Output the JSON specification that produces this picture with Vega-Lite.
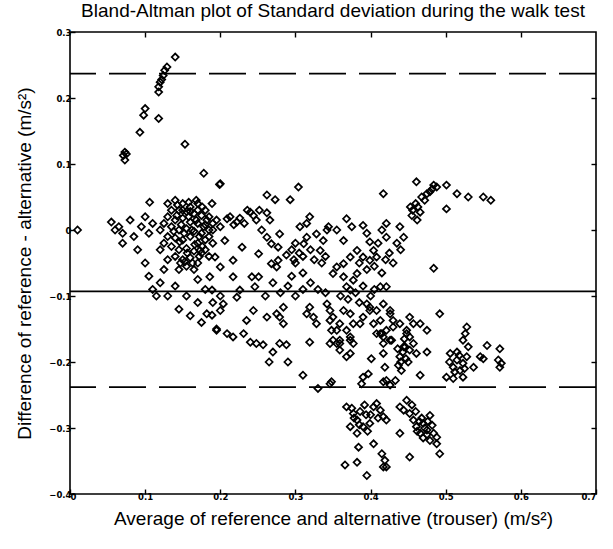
{
  "$schema": "https://vega.github.io/schema/vega-lite/v6.json",
  "width": 526,
  "height": 462,
  "autosize": {"type": "none"},
  "padding": {"left": 70, "top": 32, "right": 17, "bottom": 55},
  "background": "white",
  "title": {"text": "Bland-Altman plot of Standard deviation during the walk test", "font": "Liberation Sans", "fontSize": 19, "fontWeight": "normal", "color": "black", "offset": 7, "anchor": "middle"},
  "config": {
    "view": {"stroke": "black", "strokeWidth": 1.6},
    "axis": {"grid": false, "domain": false, "tickColor": "black", "tickSize": -5, "tickWidth": 1.4, "labelFont": "DejaVu Sans", "labelFontSize": 8.5, "labelFontWeight": "bold", "labelColor": "black", "titleFont": "Liberation Sans", "titleFontSize": 19, "titleFontWeight": "normal", "titleColor": "black"}
  },
  "datasets": {
    "pts": [
      {"a":0.140,"d":0.262},{"a":0.129,"d":0.247},{"a":0.126,"d":0.242},{"a":0.124,"d":0.234},{"a":0.120,"d":0.224},{"a":0.118,"d":0.217},{"a":0.118,"d":0.209},{"a":0.122,"d":0.228},{"a":0.100,"d":0.184},{"a":0.098,"d":0.174},{"a":0.118,"d":0.169},{"a":0.093,"d":0.148},{"a":0.073,"d":0.118},{"a":0.071,"d":0.113},{"a":0.073,"d":0.106},{"a":0.075,"d":0.115},{"a":0.153,"d":0.130},{"a":0.178,"d":0.086},{"a":0.199,"d":0.069},{"a":0.106,"d":0.042},{"a":0.189,"d":0.040},
      {"a":0.200,"d":0.070},{"a":0.262,"d":0.053},{"a":0.293,"d":0.046},{"a":0.304,"d":0.065},{"a":0.417,"d":0.055},{"a":0.461,"d":0.073},{"a":0.484,"d":0.068},{"a":0.501,"d":0.068},{"a":0.501,"d":0.032},{"a":0.479,"d":0.058},{"a":0.466,"d":0.027},{"a":0.453,"d":0.035},{"a":0.472,"d":0.045},{"a":0.460,"d":0.040},
      {"a":0.209,"d":0.017},{"a":0.222,"d":0.012},{"a":0.240,"d":0.027},{"a":0.244,"d":0.022},{"a":0.262,"d":0.026},{"a":0.266,"d":0.015},{"a":0.273,"d":0.046},
      {"a":0.255,"d":0.000},{"a":0.262,"d":-0.011},{"a":0.268,"d":-0.021},{"a":0.279,"d":-0.006},{"a":0.277,"d":-0.026},{"a":0.277,"d":-0.046},{"a":0.288,"d":-0.038},
      {"a":0.306,"d":0.005},{"a":0.315,"d":0.010},{"a":0.315,"d":-0.011},{"a":0.311,"d":-0.021},{"a":0.319,"d":0.020},
      {"a":0.328,"d":-0.006},{"a":0.337,"d":-0.016},{"a":0.333,"d":-0.031},{"a":0.342,"d":0.000},
      {"a":0.344,"d":0.005},{"a":0.355,"d":0.000},{"a":0.364,"d":-0.016},{"a":0.368,"d":0.017},{"a":0.375,"d":0.005},
      {"a":0.390,"d":0.007},{"a":0.395,"d":-0.005},{"a":0.399,"d":-0.018},{"a":0.404,"d":-0.031},{"a":0.415,"d":0.000},{"a":0.421,"d":-0.011},{"a":0.439,"d":0.005},{"a":0.444,"d":-0.011},{"a":0.421,"d":0.010},{"a":0.455,"d":0.022},{"a":0.462,"d":0.015},
      {"a":0.382,"d":-0.031},{"a":0.373,"d":-0.041},{"a":0.364,"d":-0.051},{"a":0.355,"d":-0.056},{"a":0.350,"d":-0.066},
      {"a":0.390,"d":-0.041},{"a":0.399,"d":-0.046},{"a":0.408,"d":-0.041},
      {"a":0.484,"d":-0.058},{"a":0.492,"d":-0.127},{"a":0.413,"d":-0.086},{"a":0.421,"d":-0.086},
      {"a":0.364,"d":-0.071},{"a":0.368,"d":-0.086},{"a":0.373,"d":-0.091},{"a":0.377,"d":-0.076},{"a":0.382,"d":-0.066},
      {"a":0.342,"d":-0.112},{"a":0.346,"d":-0.122},{"a":0.350,"d":-0.132},{"a":0.359,"d":-0.142},
      {"a":0.319,"d":-0.117},{"a":0.324,"d":-0.132},{"a":0.328,"d":-0.142},{"a":0.315,"d":-0.127},
      {"a":0.284,"d":-0.117},{"a":0.279,"d":-0.132},{"a":0.284,"d":-0.142},{"a":0.275,"d":-0.127},
      {"a":0.262,"d":-0.132},{"a":0.244,"d":-0.122},{"a":0.235,"d":-0.137},
      {"a":0.195,"d":-0.152},{"a":0.209,"d":-0.157},{"a":0.217,"d":-0.162},{"a":0.231,"d":-0.157},
      {"a":0.182,"d":-0.127},{"a":0.189,"d":-0.129},
      {"a":0.217,"d":-0.071},{"a":0.226,"d":-0.091},{"a":0.222,"d":-0.102},{"a":0.204,"d":-0.112},{"a":0.200,"d":-0.122},
      {"a":0.186,"d":-0.071},{"a":0.189,"d":-0.091},
      {"a":0.200,"d":-0.056},{"a":0.217,"d":-0.046},{"a":0.193,"d":-0.041},{"a":0.251,"d":-0.036},{"a":0.268,"d":-0.051},{"a":0.275,"d":-0.056},
      {"a":0.206,"d":-0.016},{"a":0.229,"d":-0.026},{"a":0.173,"d":-0.031},
      {"a":0.242,"d":-0.071},{"a":0.251,"d":-0.071},{"a":0.246,"d":-0.086},
      {"a":0.439,"d":-0.142},{"a":0.448,"d":-0.152},{"a":0.452,"d":-0.162},{"a":0.457,"d":-0.172},{"a":0.444,"d":-0.177},
      {"a":0.417,"d":-0.112},{"a":0.426,"d":-0.127},{"a":0.430,"d":-0.137},{"a":0.421,"d":-0.152},{"a":0.413,"d":-0.157},
      {"a":0.395,"d":-0.112},{"a":0.399,"d":-0.122},{"a":0.390,"d":-0.132},{"a":0.386,"d":-0.142},
      {"a":0.377,"d":-0.142},{"a":0.368,"d":-0.152},{"a":0.373,"d":-0.167},{"a":0.377,"d":-0.172},
      {"a":0.346,"d":-0.172},{"a":0.350,"d":-0.167},{"a":0.359,"d":-0.172},{"a":0.319,"d":-0.170},{"a":0.279,"d":-0.172},{"a":0.288,"d":-0.174},{"a":0.240,"d":-0.170},{"a":0.248,"d":-0.172},{"a":0.257,"d":-0.174},
      {"a":0.348,"d":-0.152},{"a":0.417,"d":-0.172},{"a":0.426,"d":-0.167},{"a":0.466,"d":-0.142},{"a":0.475,"d":-0.152},
      {"a":0.452,"d":-0.132},{"a":0.457,"d":-0.142},
      {"a":0.448,"d":-0.157},{"a":0.446,"d":-0.177},{"a":0.439,"d":-0.192},{"a":0.437,"d":-0.205},{"a":0.441,"d":-0.213},{"a":0.452,"d":-0.182},{"a":0.461,"d":-0.187},{"a":0.475,"d":-0.185},{"a":0.433,"d":-0.228},{"a":0.426,"d":-0.235},{"a":0.417,"d":-0.230},{"a":0.419,"d":-0.208},{"a":0.417,"d":-0.187},{"a":0.428,"d":-0.167},{"a":0.415,"d":-0.157},{"a":0.430,"d":-0.147},{"a":0.401,"d":-0.195},{"a":0.397,"d":-0.218},{"a":0.388,"d":-0.233},{"a":0.466,"d":-0.220},
      {"a":0.443,"d":-0.185},{"a":0.447,"d":-0.195},{"a":0.436,"d":-0.180},{"a":0.450,"d":-0.200},{"a":0.440,"d":-0.200},{"a":0.445,"d":-0.165},
      {"a":0.355,"d":-0.172},{"a":0.359,"d":-0.182},{"a":0.373,"d":-0.187},{"a":0.368,"d":-0.192},{"a":0.348,"d":-0.230},
      {"a":0.506,"d":-0.187},{"a":0.515,"d":-0.197},{"a":0.510,"d":-0.208},{"a":0.519,"d":-0.213},{"a":0.523,"d":-0.202},{"a":0.528,"d":-0.192},{"a":0.501,"d":-0.223},{"a":0.510,"d":-0.225},{"a":0.523,"d":-0.223},{"a":0.528,"d":-0.147},{"a":0.526,"d":-0.157},{"a":0.523,"d":-0.167},{"a":0.530,"d":-0.177},{"a":0.537,"d":-0.208},{"a":0.555,"d":-0.175},{"a":0.546,"d":-0.192},{"a":0.550,"d":-0.195},{"a":0.572,"d":-0.180},{"a":0.570,"d":-0.197},{"a":0.572,"d":-0.208},{"a":0.574,"d":-0.202},
      {"a":0.505,"d":-0.200},{"a":0.512,"d":-0.215},{"a":0.518,"d":-0.190},{"a":0.525,"d":-0.210},{"a":0.515,"d":-0.185},
      {"a":0.368,"d":-0.268},{"a":0.377,"d":-0.278},{"a":0.382,"d":-0.288},{"a":0.390,"d":-0.298},{"a":0.399,"d":-0.293},{"a":0.404,"d":-0.268},{"a":0.408,"d":-0.263},{"a":0.413,"d":-0.273},{"a":0.417,"d":-0.283},{"a":0.421,"d":-0.288},{"a":0.373,"d":-0.298},{"a":0.382,"d":-0.308},{"a":0.386,"d":-0.275},{"a":0.394,"d":-0.280},{"a":0.378,"d":-0.285},
      {"a":0.392,"d":-0.265},{"a":0.400,"d":-0.280},{"a":0.410,"d":-0.285},{"a":0.385,"d":-0.295},{"a":0.396,"d":-0.305},{"a":0.375,"d":-0.270},
      {"a":0.448,"d":-0.258},{"a":0.439,"d":-0.268},{"a":0.444,"d":-0.273},{"a":0.452,"d":-0.278},{"a":0.457,"d":-0.288},{"a":0.461,"d":-0.298},{"a":0.470,"d":-0.293},{"a":0.466,"d":-0.308},{"a":0.475,"d":-0.303},{"a":0.479,"d":-0.281},{"a":0.484,"d":-0.308},{"a":0.488,"d":-0.314},{"a":0.479,"d":-0.319},{"a":0.492,"d":-0.339},{"a":0.439,"d":-0.308},{"a":0.452,"d":-0.344},{"a":0.488,"d":-0.324},{"a":0.468,"d":-0.285},{"a":0.472,"d":-0.300},{"a":0.462,"d":-0.305},{"a":0.476,"d":-0.290},
      {"a":0.455,"d":-0.265},{"a":0.460,"d":-0.275},{"a":0.465,"d":-0.290},{"a":0.475,"d":-0.310},{"a":0.482,"d":-0.296},{"a":0.470,"d":-0.315},
      {"a":0.384,"d":-0.329},{"a":0.382,"d":-0.352},{"a":0.366,"d":-0.356},{"a":0.395,"d":-0.372},{"a":0.404,"d":-0.324},{"a":0.415,"d":-0.339},{"a":0.419,"d":-0.349},{"a":0.421,"d":-0.359},{"a":0.417,"d":-0.359},
      {"a":0.364,"d":-0.122},{"a":0.373,"d":-0.127},{"a":0.355,"d":-0.152},{"a":0.359,"d":-0.167},{"a":0.373,"d":-0.162},{"a":0.346,"d":-0.137},
      {"a":0.399,"d":-0.117},{"a":0.408,"d":-0.122},{"a":0.426,"d":-0.122},{"a":0.413,"d":-0.137},{"a":0.404,"d":-0.142},{"a":0.408,"d":-0.157},{"a":0.417,"d":-0.162},
      {"a":0.390,"d":-0.223},{"a":0.421,"d":-0.228},{"a":0.346,"d":-0.233},
      {"a":0.300,"d":-0.050},{"a":0.310,"d":-0.065},{"a":0.320,"d":-0.080},{"a":0.330,"d":-0.090},{"a":0.295,"d":-0.070},{"a":0.340,"d":-0.095},{"a":0.290,"d":-0.085},
      {"a":0.270,"d":-0.080},{"a":0.280,"d":-0.095},{"a":0.260,"d":-0.100},{"a":0.300,"d":-0.100},{"a":0.310,"d":-0.090},
      {"a":0.360,"d":-0.100},{"a":0.370,"d":-0.105},{"a":0.380,"d":-0.095},{"a":0.385,"d":-0.110},{"a":0.390,"d":-0.085},{"a":0.400,"d":-0.100},{"a":0.405,"d":-0.090},
      {"a":0.310,"d":-0.220},{"a":0.330,"d":-0.240},{"a":0.290,"d":-0.200},{"a":0.265,"d":-0.200},{"a":0.270,"d":-0.185},
      {"a":0.515,"d":0.055},{"a":0.530,"d":0.050},{"a":0.550,"d":0.050},{"a":0.560,"d":0.045},
      {"a":0.468,"d":0.050},{"a":0.475,"d":0.055},{"a":0.482,"d":0.062},{"a":0.488,"d":0.065},{"a":0.456,"d":0.030},{"a":0.463,"d":0.035},
      {"a":0.295,"d":-0.030},{"a":0.300,"d":-0.020},{"a":0.305,"d":-0.035},{"a":0.298,"d":-0.045},{"a":0.310,"d":-0.040},{"a":0.320,"d":-0.030},{"a":0.325,"d":-0.045},{"a":0.335,"d":-0.050},{"a":0.340,"d":-0.040},
      {"a":0.385,"d":-0.050},{"a":0.395,"d":-0.060},{"a":0.405,"d":-0.055},{"a":0.415,"d":-0.065},{"a":0.430,"d":-0.050},{"a":0.425,"d":-0.035},{"a":0.435,"d":-0.020},{"a":0.410,"d":-0.020},{"a":0.420,"d":-0.045},{"a":0.440,"d":-0.030},
      {"a":0.213,"d":0.020},{"a":0.218,"d":0.008},{"a":0.226,"d":0.018},{"a":0.232,"d":0.010},{"a":0.248,"d":0.015},{"a":0.236,"d":0.030},{"a":0.252,"d":0.030},
      {"a":0.130,"d":0.040},{"a":0.140,"d":0.045},{"a":0.150,"d":0.040},{"a":0.160,"d":0.035},{"a":0.170,"d":0.040},{"a":0.180,"d":0.030},{"a":0.135,"d":0.030},{"a":0.145,"d":0.030},{"a":0.155,"d":0.028},{"a":0.165,"d":0.025},{"a":0.175,"d":0.022},{"a":0.185,"d":0.020},{"a":0.130,"d":0.020},{"a":0.140,"d":0.015},{"a":0.150,"d":0.018},{"a":0.160,"d":0.012},{"a":0.170,"d":0.010},{"a":0.180,"d":0.008},{"a":0.190,"d":0.010},{"a":0.125,"d":0.010},{"a":0.135,"d":0.005},{"a":0.145,"d":0.000},{"a":0.155,"d":0.002},{"a":0.165,"d":-0.002},{"a":0.175,"d":-0.005},{"a":0.185,"d":0.000},{"a":0.120,"d":0.000},{"a":0.130,"d":-0.010},{"a":0.140,"d":-0.012},{"a":0.150,"d":-0.015},{"a":0.160,"d":-0.010},{"a":0.170,"d":-0.020},{"a":0.180,"d":-0.015},{"a":0.125,"d":-0.020},{"a":0.135,"d":-0.025},{"a":0.145,"d":-0.030},{"a":0.155,"d":-0.028},{"a":0.165,"d":-0.032},{"a":0.175,"d":-0.035},{"a":0.140,"d":-0.040},{"a":0.150,"d":-0.045},{"a":0.160,"d":-0.042},{"a":0.170,"d":-0.050},{"a":0.130,"d":-0.045},{"a":0.155,"d":-0.055},{"a":0.145,"d":-0.060},{"a":0.165,"d":-0.060},{"a":0.120,"d":-0.030},{"a":0.190,"d":-0.020},{"a":0.185,"d":-0.040},
      {"a":0.142,"d":0.022},{"a":0.148,"d":0.008},{"a":0.152,"d":-0.005},{"a":0.158,"d":0.020},{"a":0.162,"d":0.000},{"a":0.168,"d":0.015},{"a":0.172,"d":-0.010},{"a":0.178,"d":0.005},{"a":0.146,"d":-0.018},{"a":0.156,"d":-0.035},{"a":0.166,"d":-0.022},{"a":0.176,"d":-0.025},{"a":0.182,"d":0.015},{"a":0.138,"d":-0.002},{"a":0.150,"d":0.030},{"a":0.160,"d":0.028},{"a":0.170,"d":0.030},{"a":0.143,"d":0.038},{"a":0.158,"d":0.042},{"a":0.168,"d":0.045},{"a":0.176,"d":0.035},{"a":0.153,"d":-0.048},{"a":0.163,"d":-0.050},{"a":0.147,"d":-0.050},{"a":0.172,"d":-0.040},{"a":0.180,"d":-0.030},{"a":0.185,"d":-0.010},{"a":0.190,"d":0.000},{"a":0.195,"d":0.015},{"a":0.200,"d":0.005},
      {"a":0.010,"d":0.000},{"a":0.055,"d":0.012},{"a":0.065,"d":0.005},{"a":0.070,"d":-0.005},{"a":0.080,"d":0.015},{"a":0.085,"d":-0.010},{"a":0.095,"d":0.005},{"a":0.100,"d":0.020},{"a":0.105,"d":-0.005},{"a":0.110,"d":0.010},{"a":0.090,"d":-0.030},{"a":0.100,"d":-0.050},{"a":0.105,"d":-0.070},{"a":0.110,"d":-0.090},{"a":0.115,"d":-0.100},{"a":0.120,"d":-0.080},{"a":0.125,"d":-0.060},{"a":0.130,"d":-0.100},{"a":0.140,"d":-0.085},{"a":0.145,"d":-0.120},{"a":0.155,"d":-0.100},{"a":0.160,"d":-0.130},{"a":0.170,"d":-0.110},{"a":0.175,"d":-0.140},{"a":0.180,"d":-0.090},{"a":0.190,"d":-0.110},{"a":0.195,"d":-0.150},{"a":0.200,"d":-0.100},{"a":0.170,"d":-0.075},{"a":0.070,"d":-0.020},{"a":0.060,"d":0.000}
    ],
    "dashed": [{"v": 0.237}, {"v": -0.238}],
    "solid": [{"v": -0.093}]
  },
  "layer": [
    {
      "data": {"name": "pts"},
      "mark": {"type": "point", "shape": "diamond", "size": 50, "filled": false, "stroke": "black", "strokeWidth": 1.7, "opacity": 1},
      "encoding": {
        "x": {"field": "a", "type": "quantitative", "scale": {"domain": [0, 0.7], "nice": false, "zero": false}, "axis": {"orient": "bottom", "values": [0, 0.1, 0.2, 0.3, 0.4, 0.5, 0.6, 0.7], "format": "~g", "labelPadding": 3, "title": "Average of reference and alternative (trouser) (m/s²)", "titlePadding": 9}},
        "y": {"field": "d", "type": "quantitative", "scale": {"domain": [-0.4, 0.3], "nice": false, "zero": false}, "axis": {"orient": "left", "values": [-0.4, -0.3, -0.2, -0.1, 0, 0.1, 0.2, 0.3], "format": "~g", "labelPadding": 4, "title": "Difference of reference - alternative (m/s²)", "titlePadding": 14}}
      }
    },
    {
      "data": {"name": "dashed"},
      "mark": {"type": "rule", "stroke": "black", "strokeWidth": 1.6, "strokeDash": [37, 13]},
      "encoding": {"y": {"field": "v", "type": "quantitative", "axis": null}}
    },
    {
      "data": {"name": "solid"},
      "mark": {"type": "rule", "stroke": "black", "strokeWidth": 1.6},
      "encoding": {"y": {"field": "v", "type": "quantitative", "axis": null}}
    },
    {
      "data": {"name": "solid"},
      "mark": {"type": "point", "opacity": 0},
      "encoding": {
        "x": {"datum": 0.3, "type": "quantitative", "axis": {"orient": "top", "values": [0.1, 0.2, 0.3, 0.4, 0.5, 0.6], "labels": false, "title": null}},
        "y": {"field": "v", "type": "quantitative", "axis": {"orient": "right", "values": [-0.3, -0.2, -0.1, 0, 0.1, 0.2], "labels": false, "title": null}}
      }
    }
  ],
  "resolve": {"axis": {"x": "independent", "y": "independent"}}
}
